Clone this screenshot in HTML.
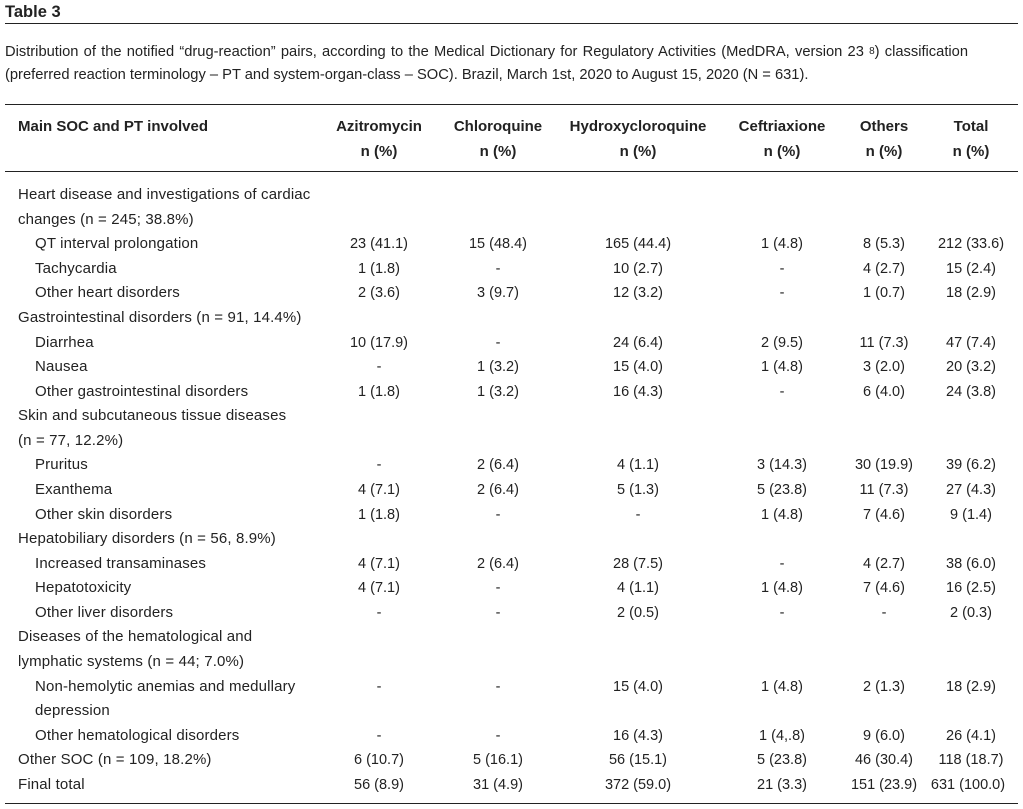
<!DOCTYPE html>
<html>
<head>
<meta charset="utf-8">
<style>
html,body{margin:0;padding:0;background:#fff;}
body{width:1023px;height:809px;position:relative;overflow:hidden;font-family:"Liberation Sans",Arial,sans-serif;color:#222;}
.abs{position:absolute;white-space:nowrap;}
.title{left:5px;top:2px;font-size:16.5px;font-weight:bold;line-height:20px;}
.hr{position:absolute;left:5px;width:1013px;height:1px;background:#222;}
.cap{left:5px;font-size:14.7px;line-height:23px;}
.just{text-align:justify;text-align-last:justify;}
.hd{font-size:15px;font-weight:bold;line-height:24px;}
.row{position:absolute;left:0;width:1023px;height:24.58px;line-height:24.58px;font-size:15px;}
.l0,.l1{position:absolute;top:0;white-space:nowrap;letter-spacing:0.15px;}
.l0{left:18px;}
.l1{left:35px;}
.c{position:absolute;top:0;width:140px;margin-left:-70px;text-align:center;white-space:nowrap;font-size:14.5px;}
.hc{position:absolute;width:180px;margin-left:-90px;text-align:center;white-space:nowrap;}
sup.s{font-size:10px;vertical-align:2px;line-height:0;}
</style>
</head>
<body>
<div class="abs title">Table 3</div>
<div class="hr" style="top:23px;"></div>

<div class="abs cap just" style="top:41px;width:963px;">Distribution of the notified “drug-reaction” pairs, according to the Medical Dictionary for Regulatory Activities (MedDRA, version 23 <sup class="s">8</sup>) classification</div>
<div class="abs cap" style="top:64px;">(preferred reaction terminology – PT and system-organ-class – SOC). Brazil, March 1st, 2020 to August 15, 2020 (N = 631).</div>

<div class="hr" style="top:104px;"></div>

<div class="abs hd" style="left:18px;top:115px;">Main SOC and PT involved</div>
<div class="hd">
<div class="hc" style="left:379px;top:115px;">Azitromycin</div>
<div class="hc" style="left:498px;top:115px;">Chloroquine</div>
<div class="hc" style="left:638px;top:115px;">Hydroxycloroquine</div>
<div class="hc" style="left:782px;top:115px;">Ceftriaxione</div>
<div class="hc" style="left:884px;top:115px;">Others</div>
<div class="hc" style="left:971px;top:115px;">Total</div>
<div class="hc" style="left:379px;top:140px;">n (%)</div>
<div class="hc" style="left:498px;top:140px;">n (%)</div>
<div class="hc" style="left:638px;top:140px;">n (%)</div>
<div class="hc" style="left:782px;top:140px;">n (%)</div>
<div class="hc" style="left:884px;top:140px;">n (%)</div>
<div class="hc" style="left:971px;top:140px;">n (%)</div>
</div>

<div class="hr" style="top:171px;"></div>

<div class="row" style="top:183px;"><span class="l0">Heart disease and investigations of cardiac</span></div>
<div class="row" style="top:207.6px;"><span class="l0">changes (n = 245; 38.8%)</span></div>
<div class="row" style="top:232.2px;"><span class="l1">QT interval prolongation</span><span class="c" style="left:379px">23 (41.1)</span><span class="c" style="left:498px">15 (48.4)</span><span class="c" style="left:638px">165 (44.4)</span><span class="c" style="left:782px">1 (4.8)</span><span class="c" style="left:884px">8 (5.3)</span><span class="c" style="left:971px">212 (33.6)</span></div>
<div class="row" style="top:256.7px;"><span class="l1">Tachycardia</span><span class="c" style="left:379px">1 (1.8)</span><span class="c" style="left:498px">-</span><span class="c" style="left:638px">10 (2.7)</span><span class="c" style="left:782px">-</span><span class="c" style="left:884px">4 (2.7)</span><span class="c" style="left:971px">15 (2.4)</span></div>
<div class="row" style="top:281.3px;"><span class="l1">Other heart disorders</span><span class="c" style="left:379px">2 (3.6)</span><span class="c" style="left:498px">3 (9.7)</span><span class="c" style="left:638px">12 (3.2)</span><span class="c" style="left:782px">-</span><span class="c" style="left:884px">1 (0.7)</span><span class="c" style="left:971px">18 (2.9)</span></div>
<div class="row" style="top:305.9px;"><span class="l0">Gastrointestinal disorders (n = 91, 14.4%)</span></div>
<div class="row" style="top:330.5px;"><span class="l1">Diarrhea</span><span class="c" style="left:379px">10 (17.9)</span><span class="c" style="left:498px">-</span><span class="c" style="left:638px">24 (6.4)</span><span class="c" style="left:782px">2 (9.5)</span><span class="c" style="left:884px">11 (7.3)</span><span class="c" style="left:971px">47 (7.4)</span></div>
<div class="row" style="top:355.1px;"><span class="l1">Nausea</span><span class="c" style="left:379px">-</span><span class="c" style="left:498px">1 (3.2)</span><span class="c" style="left:638px">15 (4.0)</span><span class="c" style="left:782px">1 (4.8)</span><span class="c" style="left:884px">3 (2.0)</span><span class="c" style="left:971px">20 (3.2)</span></div>
<div class="row" style="top:379.6px;"><span class="l1">Other gastrointestinal disorders</span><span class="c" style="left:379px">1 (1.8)</span><span class="c" style="left:498px">1 (3.2)</span><span class="c" style="left:638px">16 (4.3)</span><span class="c" style="left:782px">-</span><span class="c" style="left:884px">6 (4.0)</span><span class="c" style="left:971px">24 (3.8)</span></div>
<div class="row" style="top:404.2px;"><span class="l0">Skin and subcutaneous tissue diseases</span></div>
<div class="row" style="top:428.8px;"><span class="l0">(n = 77, 12.2%)</span></div>
<div class="row" style="top:453.4px;"><span class="l1">Pruritus</span><span class="c" style="left:379px">-</span><span class="c" style="left:498px">2 (6.4)</span><span class="c" style="left:638px">4 (1.1)</span><span class="c" style="left:782px">3 (14.3)</span><span class="c" style="left:884px">30 (19.9)</span><span class="c" style="left:971px">39 (6.2)</span></div>
<div class="row" style="top:478px;"><span class="l1">Exanthema</span><span class="c" style="left:379px">4 (7.1)</span><span class="c" style="left:498px">2 (6.4)</span><span class="c" style="left:638px">5 (1.3)</span><span class="c" style="left:782px">5 (23.8)</span><span class="c" style="left:884px">11 (7.3)</span><span class="c" style="left:971px">27 (4.3)</span></div>
<div class="row" style="top:502.5px;"><span class="l1">Other skin disorders</span><span class="c" style="left:379px">1 (1.8)</span><span class="c" style="left:498px">-</span><span class="c" style="left:638px">-</span><span class="c" style="left:782px">1 (4.8)</span><span class="c" style="left:884px">7 (4.6)</span><span class="c" style="left:971px">9 (1.4)</span></div>
<div class="row" style="top:527.1px;"><span class="l0">Hepatobiliary disorders (n = 56, 8.9%)</span></div>
<div class="row" style="top:551.7px;"><span class="l1">Increased transaminases</span><span class="c" style="left:379px">4 (7.1)</span><span class="c" style="left:498px">2 (6.4)</span><span class="c" style="left:638px">28 (7.5)</span><span class="c" style="left:782px">-</span><span class="c" style="left:884px">4 (2.7)</span><span class="c" style="left:971px">38 (6.0)</span></div>
<div class="row" style="top:576.3px;"><span class="l1">Hepatotoxicity</span><span class="c" style="left:379px">4 (7.1)</span><span class="c" style="left:498px">-</span><span class="c" style="left:638px">4 (1.1)</span><span class="c" style="left:782px">1 (4.8)</span><span class="c" style="left:884px">7 (4.6)</span><span class="c" style="left:971px">16 (2.5)</span></div>
<div class="row" style="top:600.9px;"><span class="l1">Other liver disorders</span><span class="c" style="left:379px">-</span><span class="c" style="left:498px">-</span><span class="c" style="left:638px">2 (0.5)</span><span class="c" style="left:782px">-</span><span class="c" style="left:884px">-</span><span class="c" style="left:971px">2 (0.3)</span></div>
<div class="row" style="top:625.4px;"><span class="l0">Diseases of the hematological and</span></div>
<div class="row" style="top:650px;"><span class="l0">lymphatic systems (n = 44; 7.0%)</span></div>
<div class="row" style="top:674.6px;"><span class="l1">Non-hemolytic anemias and medullary</span><span class="c" style="left:379px">-</span><span class="c" style="left:498px">-</span><span class="c" style="left:638px">15 (4.0)</span><span class="c" style="left:782px">1 (4.8)</span><span class="c" style="left:884px">2 (1.3)</span><span class="c" style="left:971px">18 (2.9)</span></div>
<div class="row" style="top:699.2px;"><span class="l1">depression</span></div>
<div class="row" style="top:723.8px;"><span class="l1">Other hematological disorders</span><span class="c" style="left:379px">-</span><span class="c" style="left:498px">-</span><span class="c" style="left:638px">16 (4.3)</span><span class="c" style="left:782px">1 (4,.8)</span><span class="c" style="left:884px">9 (6.0)</span><span class="c" style="left:971px">26 (4.1)</span></div>
<div class="row" style="top:748.3px;"><span class="l0">Other SOC (n = 109, 18.2%)</span><span class="c" style="left:379px">6 (10.7)</span><span class="c" style="left:498px">5 (16.1)</span><span class="c" style="left:638px">56 (15.1)</span><span class="c" style="left:782px">5 (23.8)</span><span class="c" style="left:884px">46 (30.4)</span><span class="c" style="left:971px">118 (18.7)</span></div>
<div class="row" style="top:772.9px;"><span class="l0">Final total</span><span class="c" style="left:379px">56 (8.9)</span><span class="c" style="left:498px">31 (4.9)</span><span class="c" style="left:638px">372 (59.0)</span><span class="c" style="left:782px">21 (3.3)</span><span class="c" style="left:884px">151 (23.9)</span><span class="c" style="left:968px">631 (100.0)</span></div>

<div class="hr" style="top:803px;"></div>
</body>
</html>
